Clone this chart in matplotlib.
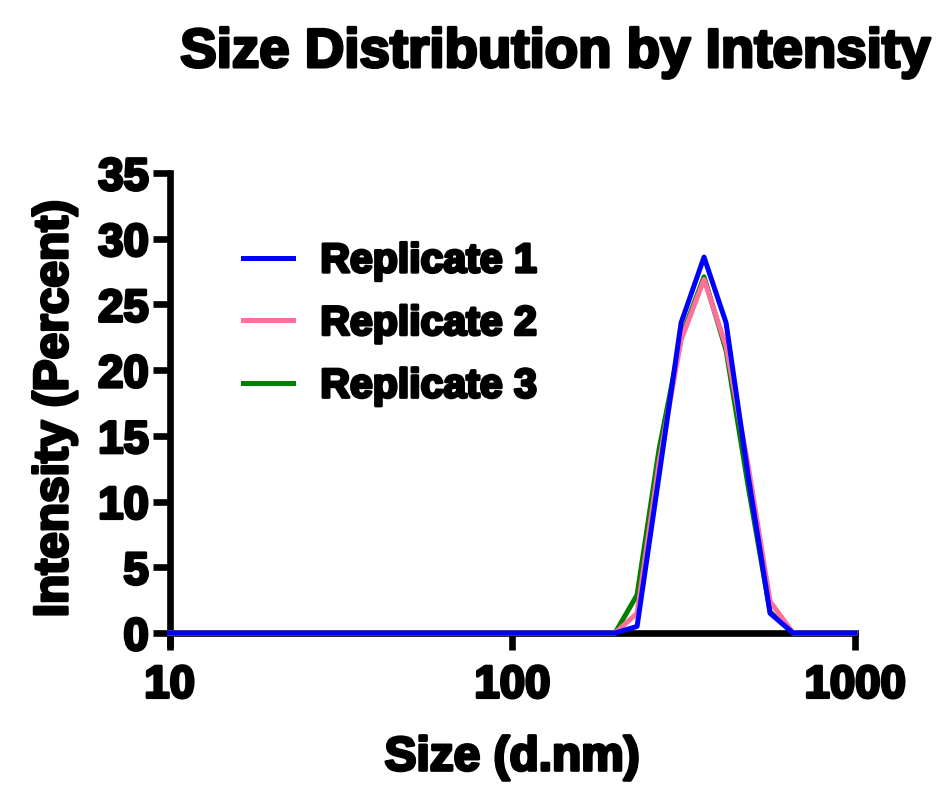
import matplotlib
matplotlib.use("Agg")
import matplotlib.pyplot as plt
import matplotlib.patheffects as pe
from matplotlib import font_manager as fm
from matplotlib.ticker import FixedLocator, NullLocator

# Data (sizes in d.nm, intensities in percent)
sizes = [10, 199.5, 231.3, 268.2, 310.9, 362.7, 420.6, 487.5, 565.3, 659.7, 1000]
rep1 = [0, 0, 0.5, 12.0, 23.6, 28.6, 23.6, 12.0, 1.5, 0, 0]
rep2 = [0, 0, 1.5, 13.0, 22.3, 26.9, 21.8, 12.8, 2.4, 0, 0]
rep3 = [0, 0, 2.9, 14.0, 22.5, 27.1, 21.5, 11.2, 1.6, 0, 0]
series_names = ["Replicate 1", "Replicate 2", "Replicate 3"]
series_colors = ["#0000ff", "#ff6f9a", "#008000"]
xticks = [10, 100, 1000]
xticklabels = ["10", "100", "1000"]
yticks = [0, 5, 10, 15, 20, 25, 30, 35]

names = {f.name for f in fm.fontManager.ttflist}
if "Liberation Sans Narrow" in names:
    FONT, k = "Liberation Sans Narrow", 1.0
else:
    FONT, k = "Liberation Sans", 0.82

thick = [pe.withStroke(linewidth=2.2, foreground="black")]

fig = plt.figure(figsize=(9.46, 7.92), dpi=100)
ax = fig.add_axes([169.5 / 946, 1 - 643.5 / 792, (855 - 169.5) / 946, (643.5 - 173) / 792])

zs = [3.0, 2.9, 2.8]
for vals, name, col, z in zip([rep1, rep2, rep3], series_names, series_colors, zs):
    ax.plot(sizes, vals, color=col, lw=3.6, label=name, zorder=z, clip_on=False)
ax.set_xscale("log")
ax.set_xlim(10, 1000)
ax.set_ylim(-0.8, 35)

ax.spines["top"].set_visible(False)
ax.spines["right"].set_visible(False)
ax.spines["bottom"].set_position(("data", 0))
for s in ["left", "bottom"]:
    ax.spines[s].set_linewidth(4.8)
    ax.spines[s].set_zorder(2)

ax.xaxis.set_major_locator(FixedLocator(xticks))
ax.xaxis.set_minor_locator(NullLocator())
ax.set_xticklabels(xticklabels)
ax.set_yticks(yticks)
ax.tick_params(axis="both", which="major", length=12, width=4.8, direction="out",
               labelsize=40 * k)
ax.tick_params(axis="x", pad=10)
ax.tick_params(axis="y", pad=3)

for lab in ax.get_xticklabels() + ax.get_yticklabels():
    lab.set_fontfamily(FONT)
    lab.set_fontweight("bold")
    lab.set_path_effects(thick)

ax.set_xlabel("Size (d.nm)", fontsize=42 * k, fontweight="bold", family=FONT,
              labelpad=20, path_effects=thick)
ax.set_ylabel("Intensity (Percent)", fontsize=42 * k, fontweight="bold", family=FONT,
              labelpad=15, path_effects=thick)

fig.text(0.587, 1 - 67 / 792, "Size Distribution by Intensity", fontsize=48 * k,
         fontweight="bold", family=FONT, ha="center", va="baseline", path_effects=thick)

leg = ax.legend(loc="upper left", bbox_to_anchor=(0.107, 0.853), frameon=False,
                borderpad=0, borderaxespad=0,
                prop={"family": FONT, "weight": "bold", "size": 36 * k},
                handlelength=1.0 / k, handletextpad=0.55 / k, labelspacing=0.6)
for t in leg.get_texts():
    t.set_path_effects(thick)
for l in leg.get_lines():
    l.set_linewidth(3.6)

fig.savefig("out.png", dpi=100)
